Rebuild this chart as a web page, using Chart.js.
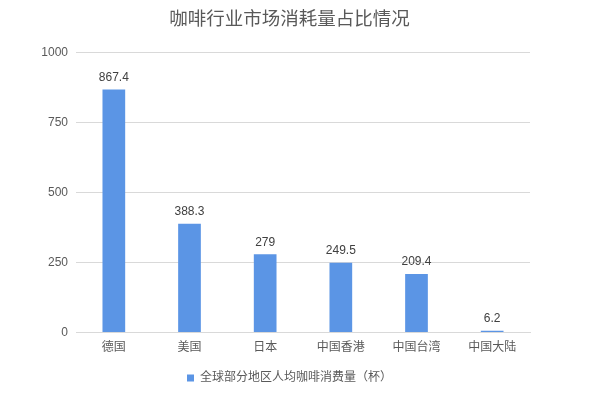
<!DOCTYPE html>
<html>
<head>
<meta charset="utf-8">
<script src="https://cdn.jsdelivr.net/npm/chart.js@4"></script>
<style>
  html, body { margin: 0; padding: 0; background: #fff; }
  #wrap { width: 593px; height: 398px; }
</style>
</head>
<body>
<div id="wrap"><canvas id="coffeeChart" width="593" height="398"></canvas></div>
<script>
const regions = ["德国", "美国", "日本", "中国香港", "中国台湾", "中国大陆"];
const cupsPerPerson = [867.4, 388.3, 279, 249.5, 209.4, 6.2];
const yTicks = [0, 250, 500, 750, 1000];

const fontFamily = "'Liberation Sans', Arial, 'Noto Sans CJK SC', sans-serif";
const textColor = "#595959";

// value labels above bars
const barLabels = {
  id: "barLabels",
  afterDatasetsDraw(chart) {
    const ctx = chart.ctx;
    const meta = chart.getDatasetMeta(0);
    ctx.save();
    ctx.font = "12px " + fontFamily;
    ctx.fillStyle = "#404040";
    ctx.textAlign = "center";
    ctx.textBaseline = "bottom";
    meta.data.forEach((bar, i) => {
      ctx.fillText(String(cupsPerPerson[i]), bar.x, bar.y - 6);
    });
    ctx.restore();
  }
};

const ctx = document.getElementById("coffeeChart").getContext("2d");
new Chart(ctx, {
  type: "bar",
  data: {
    labels: regions,
    datasets: [
      {
        label: "全球部分地区人均咖啡消费量（杯）",
        data: cupsPerPerson,
        backgroundColor: "#5B95E5",
        barPercentage: 0.6,
        categoryPercentage: 0.5,
      },
    ],
  },
  options: {
    responsive: false,
    animation: false,
    layout: { padding: { left: 0, right: 14, top: 9, bottom: 4 } },
    plugins: {
      title: {
        display: true,
        text: "咖啡行业市场消耗量占比情况",
        color: textColor,
        font: { size: 18.5, family: fontFamily, weight: "normal" },
        padding: { top: 0, bottom: 21 },
      },
      legend: {
        position: "bottom",
        labels: {
          color: textColor,
          font: { size: 12, family: fontFamily },
          boxWidth: 7,
          boxHeight: 7,
          padding: 9,
        },
      },
      tooltip: { enabled: false },
    },
    scales: {
      x: {
        grid: { display: false, drawTicks: false },
        border: { color: "#d9d9d9" },
        ticks: { color: textColor, font: { size: 12, family: fontFamily }, padding: 8 },
      },
      y: {
        min: 0,
        max: 1000,
        afterFit: (s) => { s.width = 76; },
        afterBuildTicks: (s) => { s.ticks = yTicks.map((v) => ({ value: v })); },
        grid: { color: "#d9d9d9", drawTicks: false },
        border: { display: false },
        ticks: {
          color: textColor,
          font: { size: 12, family: fontFamily },
          padding: 8,
          callback: (v) => String(v),
        },
      },
      yRight: {
        position: "right",
        afterFit: (s) => { s.width = 49; },
        grid: { display: false, drawTicks: false },
        border: { display: false },
        ticks: { display: false },
      },
    },
  },
  plugins: [barLabels],
});
</script>
</body>
</html>
